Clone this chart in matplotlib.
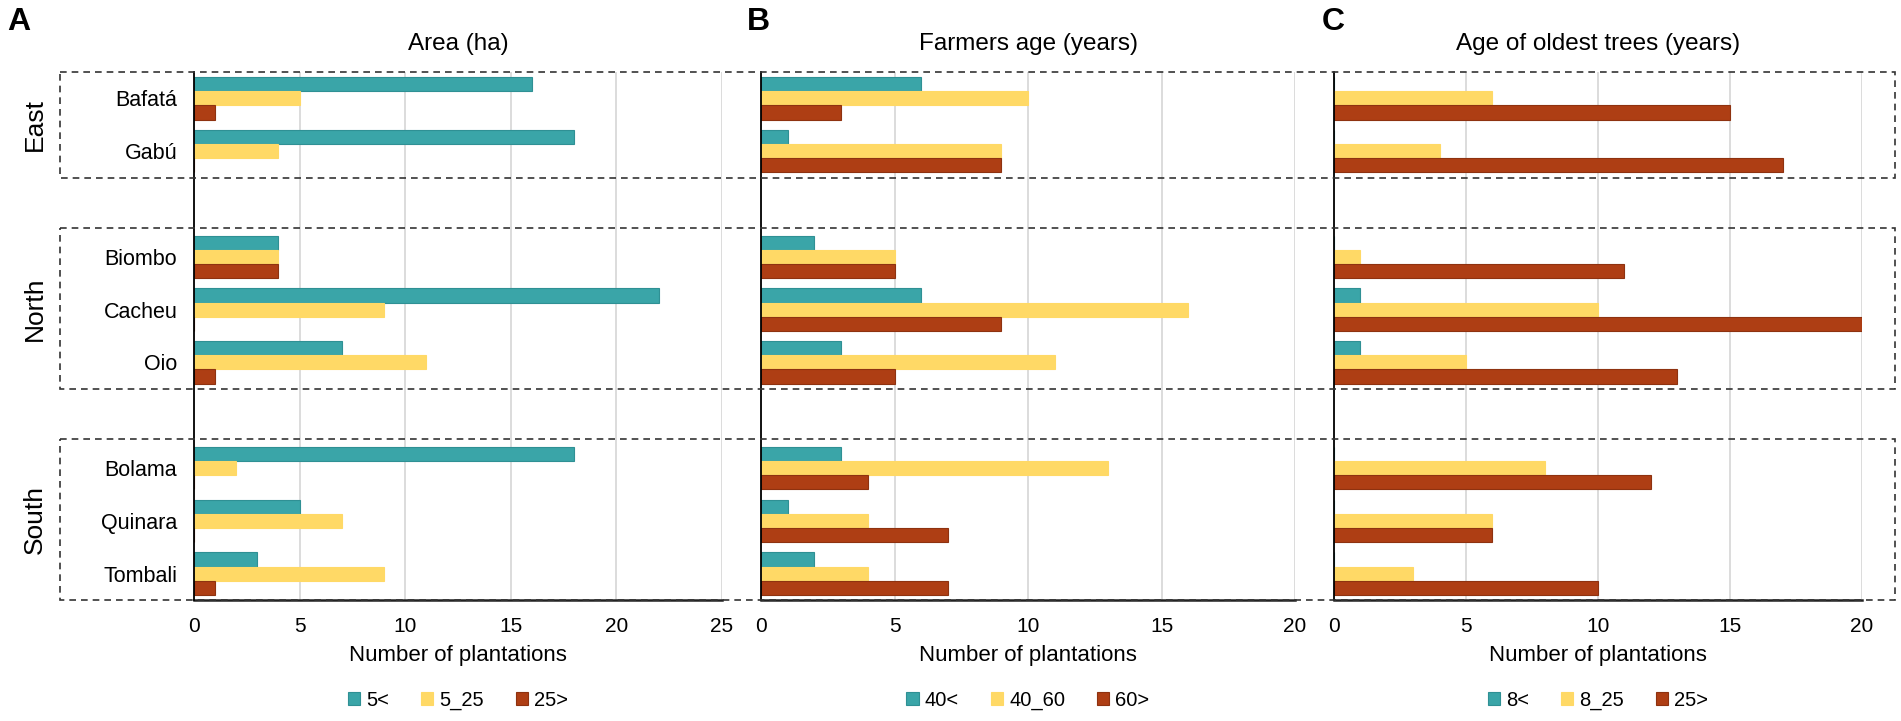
import numpy as np
import matplotlib.pyplot as plt
from matplotlib.patches import Rectangle
from matplotlib.transforms import blended_transform_factory

# regions and their sectors (top to bottom)
region_names = ['East', 'North', 'South']
region_members = [['Bafatá', 'Gabú'],
                  ['Biombo', 'Cacheu', 'Oio'],
                  ['Bolama', 'Quinara', 'Tombali']]

# A - area (ha)
area_lt5 = [16, 18, 4, 22, 7, 18, 5, 3]
area_5_25 = [5, 4, 4, 9, 11, 2, 7, 9]
area_gt25 = [1, 0, 4, 0, 1, 0, 0, 1]

# B - farmers age (years)
age_lt40 = [6, 1, 2, 6, 3, 3, 1, 2]
age_40_60 = [10, 9, 5, 16, 11, 13, 4, 4]
age_gt60 = [3, 9, 5, 9, 5, 4, 7, 7]

# C - age of oldest trees (years)
trees_lt8 = [0, 0, 0, 1, 1, 0, 0, 0]
trees_8_25 = [6, 4, 1, 10, 5, 8, 6, 3]
trees_gt25 = [15, 17, 11, 20, 13, 12, 6, 10]

panel_titles = ['Area (ha)', 'Farmers age (years)', 'Age of oldest trees (years)']
panel_letters = ['A', 'B', 'C']
legend_labels = [['5<', '5_25', '25>'], ['40<', '40_60', '60>'], ['8<', '8_25', '25>']]
xmax = [25, 20, 20]

colors = ['#3aa5a8', '#ffd966', '#ae3e14']
edges = ['#2f9094', '#ffd966', '#8e3210']

plt.rcParams['font.family'] = ['Liberation Sans', 'DejaVu Sans']

W, H = 1901, 721
fig = plt.figure(figsize=(W / 100, H / 100), dpi=100)

# slot positions: one empty slot between regions
categories = []
pos = []
region_spans = []
y = 0
for members in region_members:
    start = y
    for m in members:
        categories.append(m)
        pos.append(y)
        y += 1
    region_spans.append((start, y - 1))
    y += 1
pos = np.array(pos, dtype=float)

panels = [(area_lt5, area_5_25, area_gt25),
          (age_lt40, age_40_60, age_gt60),
          (trees_lt8, trees_8_25, trees_gt25)]

axes_px = [(194, 722), (761, 1295), (1334, 1862)]
top_px, bot_px = 72, 600
h = 0.267
axes = []
for i, (l, r) in enumerate(axes_px):
    ax = fig.add_axes([l / W, (H - bot_px) / H, (r - l) / W, (bot_px - top_px) / H])
    axes.append(ax)
    for j, vals in enumerate(panels[i]):
        ax.barh(pos + (j - 1) * h, vals, height=h, color=colors[j],
                edgecolor=edges[j], linewidth=0.8, label=legend_labels[i][j], zorder=3)
    ax.set_xlim(0, xmax[i])
    ax.set_ylim(9.5, -0.5)
    ax.set_xticks(np.arange(0, xmax[i] + 1, 5))
    ax.grid(axis='x', color='#d9d9d9', linewidth=1.3, zorder=0)
    ax.tick_params(axis='both', length=0, labelsize=15, pad=12)
    if i == 0:
        ax.set_yticks(pos)
        ax.set_yticklabels(categories, fontsize=15.5)
    else:
        ax.set_yticks([])
    for s in ['top', 'right']:
        ax.spines[s].set_visible(False)
    ax.spines['left'].set_color('black')
    ax.spines['left'].set_linewidth(1.3)
    ax.spines['left'].set_zorder(4)
    ax.spines['bottom'].set_color('#222222')
    ax.spines['bottom'].set_linewidth(1.8)
    ax.set_xlabel('Number of plantations', fontsize=16)
    ax.xaxis.set_label_coords(0.5, -0.086)
    leg = ax.legend(loc='center', bbox_to_anchor=(0.5, -0.19), ncol=3, frameon=False,
                    fontsize=14.5, handlelength=0.6, handleheight=0.6, handletextpad=0.3,
                    columnspacing=1.6)
    cx = (l + r) / 2 / W
    fig.text(cx, (H - 44) / H, panel_titles[i], ha='center', va='center', fontsize=17.5)

letter_x = [19, 758, 1333]
for lx, letter in zip(letter_x, panel_letters):
    fig.text(lx / W, (H - 22) / H, letter, ha='center', va='center',
             fontsize=23, fontweight='bold')

# dashed region boxes across all panels
trans = blended_transform_factory(fig.transFigure, axes[0].transData)
box_left, box_right = 60 / W, 1895 / W
box_tops = [-0.5, 2.45, 6.45]
for (start, end), top, name in zip(region_spans, box_tops, region_names):
    bottom = end + 0.5
    rect = Rectangle((box_left, top), box_right - box_left, bottom - top,
                     transform=trans, fill=False, edgecolor='#333333',
                     linewidth=1.2, linestyle=(0, (4, 3)), zorder=5)
    fig.add_artist(rect)
    fig.text(35 / W, (top + bottom) / 2, name, transform=trans, rotation=90,
             ha='center', va='center', fontsize=19)

fig.savefig('out.png', dpi=100)
